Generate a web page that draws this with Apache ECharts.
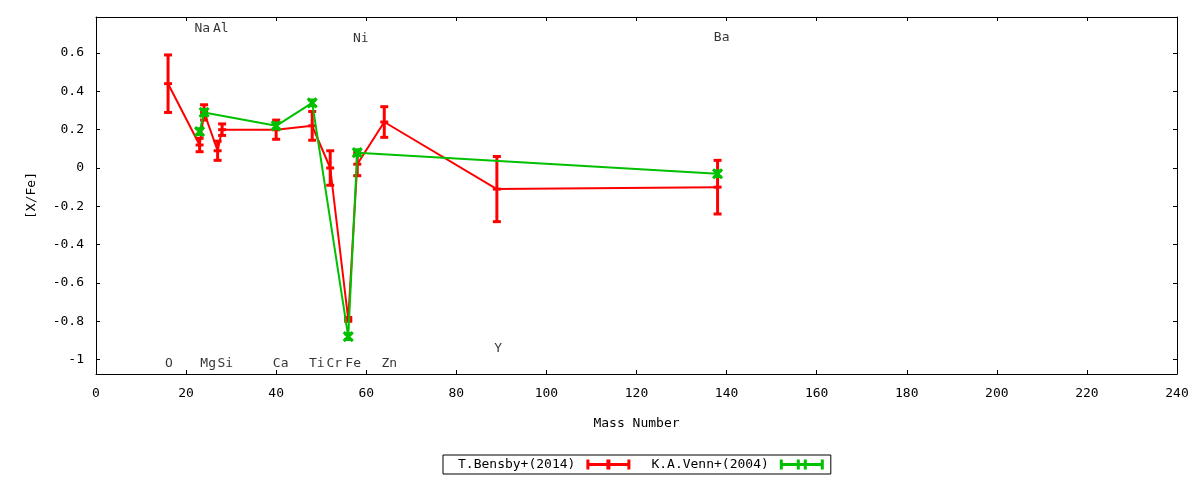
<!DOCTYPE html>
<html>
<head>
<meta charset="utf-8">
<script src="https://cdn.jsdelivr.net/npm/echarts@6/dist/echarts.min.js"></script>
<style>
html,body{margin:0;padding:0;background:#fff;}
#chart{width:1200px;height:480px;}
</style>
</head>
<body>
<div id="chart"></div>
<script>
// ---- data ----
var bensbyMass = [16, 23, 24, 27, 28, 40, 48, 52, 56, 58, 64, 89, 138];
var bensbyVal  = [0.44, 0.12, 0.29, 0.09, 0.20, 0.20, 0.22, 0.00, -0.79, 0.02, 0.24, -0.11, -0.10];
var bensbyErr  = [0.15, 0.035, 0.04, 0.05, 0.03, 0.05, 0.075, 0.09, 0.01, 0.06, 0.08, 0.17, 0.14];

var vennMass = [23, 24, 40, 48, 56, 58, 138];
var vennVal  = [0.19, 0.29, 0.22, 0.34, -0.88, 0.08, -0.03];
var vennErr  = [0.015, 0.015, 0.015, 0.015, 0.015, 0.015, 0.015];

var elemNames = ['O', 'Mg', 'Si', 'Ca', 'Ti', 'Cr', 'Fe', 'Zn', 'Y', 'Na', 'Al', 'Ni', 'Ba'];
var elemX     = [16.2, 24.9, 28.7, 41.0, 49.0, 52.9, 57.1, 65.1, 89.3, 23.6, 27.7, 58.8, 138.9];
var elemY     = [-1.02, -1.02, -1.02, -1.02, -1.02, -1.02, -1.02, -1.02, -0.945, 0.725, 0.725, 0.673, 0.678];

var yTicks = [-1, -0.8, -0.6, -0.4, -0.2, 0, 0.2, 0.4, 0.6];

var RED = '#ff0000';
var GREEN = '#00c000';
var FONT = 'DejaVu Sans Mono';

function zip3(a, b, c) { return a.map(function (v, i) { return [v, b[i], c[i]]; }); }
function zip2(a, b) { return a.map(function (v, i) { return [v, b[i]]; }); }

function errRender(color, kind) {
  return function (params, api) {
    var x = api.value(0), y = api.value(1), e = api.value(2);
    var pc = api.coord([x, y]);
    var pt = api.coord([x, y + e]);
    var pb = api.coord([x, y - e]);
    var hw = 4, lw = 3;
    var st = { stroke: color, lineWidth: lw, fill: null };
    var ch = [
      { type: 'line', shape: { x1: pc[0], y1: pt[1], x2: pc[0], y2: pb[1] }, style: st },
      { type: 'line', shape: { x1: pc[0] - hw, y1: pt[1], x2: pc[0] + hw, y2: pt[1] }, style: st },
      { type: 'line', shape: { x1: pc[0] - hw, y1: pb[1], x2: pc[0] + hw, y2: pb[1] }, style: st }
    ];
    if (kind === 'plus') {
      ch.push({ type: 'line', shape: { x1: pc[0] - hw, y1: pc[1], x2: pc[0] + hw, y2: pc[1] }, style: st });
    } else {
      var s = 4.5;
      ch.push({ type: 'line', shape: { x1: pc[0] - s, y1: pc[1] - s, x2: pc[0] + s, y2: pc[1] + s }, style: st });
      ch.push({ type: 'line', shape: { x1: pc[0] - s, y1: pc[1] + s, x2: pc[0] + s, y2: pc[1] - s }, style: st });
    }
    return { type: 'group', children: ch };
  };
}

var redIcon = 'path://M0,0H3V10H0Z M3,3.5H41V6.5H3Z M41,0H44V10H41Z M20,0H24V10H20Z';
var greenIcon = 'path://M0,0H3V10H0Z M3,3.5H41V6.5H3Z M41,0H44V10H41Z M17,0H20V10H17Z M24,0H27V10H24Z';

var chart = echarts.init(document.getElementById('chart'));
var axisCommon = {
  axisLine: { show: true, onZero: false, lineStyle: { color: '#000', width: 1 } },
  splitLine: { show: false }
};
var option = {
  backgroundColor: '#fff',
  animation: false,
  textStyle: { fontFamily: FONT },
  grid: { left: 96, right: 23, top: 17, bottom: 106, containLabel: false },
  legend: {
    data: [
      { name: 'T.Bensby+(2014)', icon: redIcon },
      { name: 'K.A.Venn+(2004)', icon: greenIcon }
    ],
    left: 443, top: 455,
    align: 'right',
    itemWidth: 44, itemHeight: 10, itemGap: 21,
    borderColor: '#000', borderWidth: 1, borderRadius: 0,
    padding: [3, 7, 3, 15],
    textStyle: { fontFamily: FONT, fontSize: 13, color: '#000', padding: [0, 6, 0, 0] }
  },
  xAxis: [
    Object.assign({
      type: 'value', position: 'bottom', min: 0, max: 240, interval: 20,
      name: 'Mass Number', nameLocation: 'middle', nameGap: 43,
      nameTextStyle: { fontFamily: FONT, fontSize: 13, color: '#000' },
      axisTick: { show: true, inside: true, length: 4, lineStyle: { color: '#000' } },
      axisLabel: { fontFamily: FONT, fontSize: 13, color: '#000', margin: 13 }
    }, axisCommon),
    Object.assign({
      type: 'value', position: 'top', min: 0, max: 240, interval: 20,
      axisTick: { show: true, inside: true, length: 4, lineStyle: { color: '#000' } },
      axisLabel: { show: false }
    }, axisCommon)
  ],
  yAxis: [
    Object.assign({
      type: 'value', position: 'left', min: -1.075, max: 0.788,
      name: '[X/Fe]', nameLocation: 'middle', nameGap: 58, nameRotate: 90,
      nameTextStyle: { fontFamily: FONT, fontSize: 13, color: '#000' },
      axisTick: { show: true, inside: true, length: 4, customValues: yTicks, lineStyle: { color: '#000' } },
      axisLabel: {
        fontFamily: FONT, fontSize: 13, color: '#000', margin: 12, customValues: yTicks,
        formatter: function (v) { return String(Number(v.toFixed(1))); }
      }
    }, axisCommon),
    Object.assign({
      type: 'value', position: 'right', min: -1.075, max: 0.788,
      axisTick: { show: true, inside: true, length: 4, customValues: yTicks, lineStyle: { color: '#000' } },
      axisLabel: { show: false }
    }, axisCommon)
  ],
  series: [
    {
      name: 'T.Bensby+(2014)', type: 'line', data: zip2(bensbyMass, bensbyVal),
      showSymbol: false, symbol: 'none', itemStyle: { color: RED },
      lineStyle: { color: RED, width: 2 }, z: 2
    },
    {
      type: 'custom', data: zip3(bensbyMass, bensbyVal, bensbyErr),
      renderItem: errRender(RED, 'plus'), z: 3, silent: true
    },
    {
      name: 'K.A.Venn+(2004)', type: 'line', data: zip2(vennMass, vennVal),
      showSymbol: false, symbol: 'none', itemStyle: { color: GREEN },
      lineStyle: { color: GREEN, width: 2 }, z: 4
    },
    {
      type: 'custom', data: zip3(vennMass, vennVal, vennErr),
      renderItem: errRender(GREEN, 'x'), z: 5, silent: true
    },
    {
      type: 'scatter', symbolSize: 0, silent: true,
      data: elemX.map(function (x, i) { return { value: [x, elemY[i]], name: elemNames[i] }; }),
      label: {
        show: true, position: 'inside', formatter: '{b}',
        fontFamily: FONT, fontSize: 13, color: '#000'
      },
      z: 6
    }
  ]
};
chart.setOption(option);
</script>
</body>
</html>
